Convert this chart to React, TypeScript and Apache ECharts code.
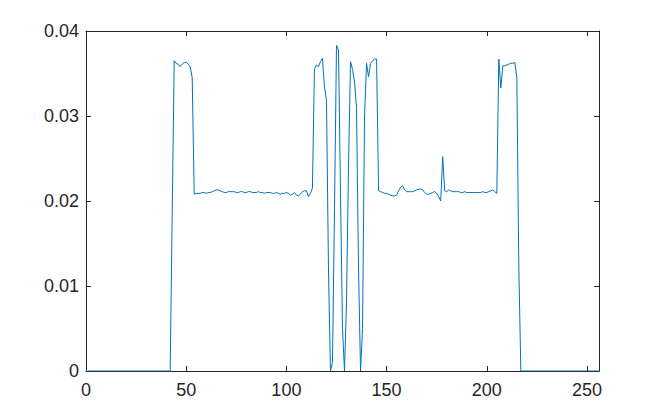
import React, { useEffect, useRef } from "react";
import * as echarts from "echarts";

// x = 1..42
const zerosLeft: number[] = [
  0, 0, 0, 0, 0, 0, 0, 0, 0, 0,
  0, 0, 0, 0, 0, 0, 0, 0, 0, 0,
  0, 0, 0, 0, 0, 0, 0, 0, 0, 0,
  0, 0, 0, 0, 0, 0, 0, 0, 0, 0,
  0, 0,
];
// x = 43..53
const plateau1: number[] = [
  0.018, 0.0365, 0.0362, 0.0361, 0.0358, 0.0361, 0.0363, 0.0363, 0.0361, 0.0358, 0.0345,
];
// x = 54..113
const flat1: number[] = [
  0.0208, 0.0209, 0.0209, 0.0209, 0.021, 0.021, 0.0209, 0.021, 0.021, 0.0211,
  0.0212, 0.0213, 0.0213, 0.0212, 0.0211, 0.021, 0.021, 0.0211, 0.0211, 0.0211,
  0.0211, 0.021, 0.021, 0.0211, 0.0211, 0.021, 0.021, 0.0211, 0.0211, 0.021,
  0.021, 0.021, 0.0211, 0.021, 0.021, 0.0209, 0.021, 0.021, 0.021, 0.0209,
  0.0209, 0.021, 0.0209, 0.0208, 0.0209, 0.0209, 0.021, 0.0209, 0.0207, 0.0208,
  0.021, 0.0207, 0.0206, 0.0208, 0.0211, 0.0212, 0.0212, 0.0205, 0.0209, 0.0215,
];
// x = 114..145
const burst: number[] = [
  0.0356, 0.036, 0.0358, 0.0364, 0.0368, 0.0334, 0.0319, 0.012, 0, 0.001,
  0.019, 0.0383, 0.0378, 0.021, 0.005, 0, 0.008, 0.024, 0.0364, 0.0355,
  0.034, 0.031, 0.012, 0, 0.005, 0.03, 0.0362, 0.0346, 0.0362, 0.0365,
  0.0367, 0.0367,
];
// x = 146..205
const flat2: number[] = [
  0.0212, 0.0211, 0.021, 0.0209, 0.0209, 0.0208, 0.0207, 0.0206, 0.0206, 0.0207,
  0.0212, 0.0216, 0.0218, 0.0213, 0.0211, 0.0211, 0.0211, 0.0211, 0.0212, 0.0213,
  0.0214, 0.0214, 0.0213, 0.021, 0.0208, 0.0208, 0.0209, 0.021, 0.0211, 0.0209,
  0.0205, 0.02, 0.0252, 0.0212, 0.0211, 0.0213, 0.0212, 0.0211, 0.0211, 0.0211,
  0.0211, 0.021, 0.021, 0.0211, 0.021, 0.021, 0.021, 0.021, 0.021, 0.021,
  0.021, 0.021, 0.0211, 0.021, 0.021, 0.0211, 0.0212, 0.0213, 0.0211, 0.0209,
];
// x = 206..216
const plateau2: number[] = [
  0.0367, 0.0333, 0.0359, 0.0359, 0.036, 0.0361, 0.0362, 0.0362, 0.0363, 0.0345, 0.012,
];
// x = 217..256
const zerosRight: number[] = [
  0, 0, 0, 0, 0, 0, 0, 0, 0, 0,
  0, 0, 0, 0, 0, 0, 0, 0, 0, 0,
  0, 0, 0, 0, 0, 0, 0, 0, 0, 0,
  0, 0, 0, 0, 0, 0, 0, 0, 0, 0,
];

const xTicks = [0, 50, 100, 150, 200, 250];
const yTicks = [0, 0.01, 0.02, 0.03, 0.04];

const signal: number[] = [
  ...zerosLeft,
  ...plateau1,
  ...flat1,
  ...burst,
  ...flat2,
  ...plateau2,
  ...zerosRight,
];

export default function App() {
  const ref = useRef<HTMLDivElement>(null);
  useEffect(() => {
    document.body.style.margin = "0";
    if (!ref.current) return;
    const chart = echarts.init(ref.current, undefined, { renderer: "svg" });
    const axisColor = "#262626";
    const font = "'Liberation Sans', Arial, Helvetica, sans-serif";
    const data = signal.map((v, i) => [i + 1, v]);
    const xFmt = (v: number) => (xTicks.includes(v) ? String(v) : "");
    const yFmt = (v: number) => {
      const r = Math.round(v * 100) / 100;
      return yTicks.some((t) => Math.abs(t - r) < 1e-9) ? String(r) : "";
    };
    chart.setOption({
      animation: false,
      backgroundColor: "#ffffff",
      grid: { left: 86, right: 64, top: 31, bottom: 46, containLabel: false },
      xAxis: [
        {
          type: "value",
          min: 0,
          max: 256,
          interval: 50,
          position: "bottom",
          axisLine: { show: true, onZero: false, lineStyle: { color: axisColor, width: 1 } },
          axisTick: { show: true, inside: true, length: 5, lineStyle: { color: axisColor } },
          axisLabel: {
            show: true,
            formatter: xFmt,
            color: axisColor,
            fontSize: 18,
            fontFamily: font,
            margin: 10,
            showMaxLabel: false,
          },
          splitLine: { show: false },
        },
        {
          type: "value",
          min: 0,
          max: 256,
          interval: 50,
          position: "top",
          axisLine: { show: true, onZero: false, lineStyle: { color: axisColor, width: 1 } },
          axisTick: { show: true, inside: true, length: 5, lineStyle: { color: axisColor } },
          axisLabel: { show: false },
          splitLine: { show: false },
        },
      ],
      yAxis: [
        {
          type: "value",
          min: 0,
          max: 0.04,
          interval: 0.01,
          position: "left",
          axisLine: { show: true, onZero: false, lineStyle: { color: axisColor, width: 1 } },
          axisTick: { show: true, inside: true, length: 5, lineStyle: { color: axisColor } },
          axisLabel: {
            show: true,
            formatter: yFmt,
            color: axisColor,
            fontSize: 18,
            fontFamily: font,
            margin: 7,
          },
          splitLine: { show: false },
        },
        {
          type: "value",
          min: 0,
          max: 0.04,
          interval: 0.01,
          position: "right",
          axisLine: { show: true, onZero: false, lineStyle: { color: axisColor, width: 1 } },
          axisTick: { show: true, inside: true, length: 5, lineStyle: { color: axisColor } },
          axisLabel: { show: false },
          splitLine: { show: false },
        },
      ],
      series: [
        {
          type: "line",
          xAxisIndex: 0,
          yAxisIndex: 0,
          data,
          showSymbol: false,
          symbol: "none",
          silent: true,
          lineStyle: { color: "#0072BD", width: 1 },
        },
      ],
    });
    return () => chart.dispose();
  }, []);
  return <div ref={ref} style={{ width: 663, height: 417 }} />;
}
